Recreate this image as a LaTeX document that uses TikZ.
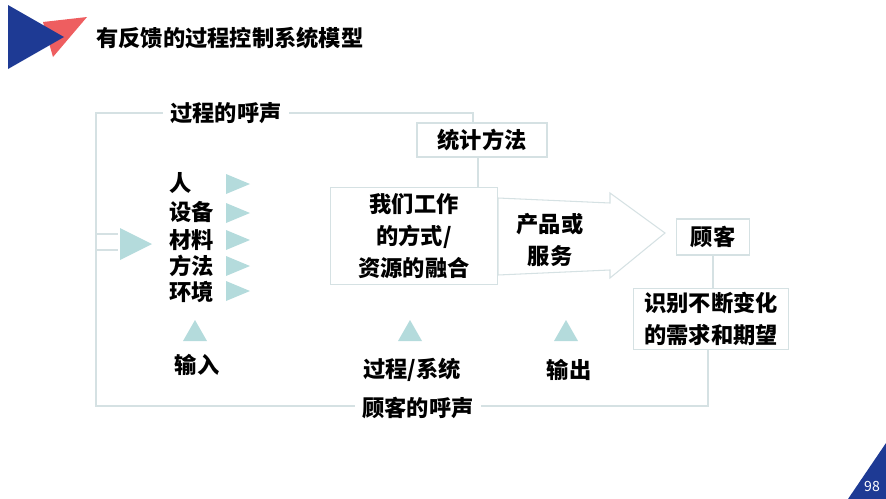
\documentclass[tikz,border=0pt]{standalone}
\usepackage{fontspec}
\setmainfont{Noto Sans CJK SC}
\usetikzlibrary{positioning,calc}
\definecolor{deckblue}{HTML}{1E3A94}
\definecolor{deckred}{HTML}{EE5E60}
\definecolor{arrowteal}{HTML}{B4DBDC}
\definecolor{rulegrey}{HTML}{D5E1E3}
\tikzset{
  x=0.03cm, y=-0.03cm,
  every node/.style = {font=\bfseries\fontsize{19}{27}\selectfont},
  box/.style        = {draw=rulegrey, line width=0.9pt, fill=white, align=center, inner sep=2pt},
  lbl/.style        = {inner sep=1pt, align=center},
  voice/.style      = {fill=white, inner sep=6pt},
  loop/.style       = {draw=rulegrey, line width=0.9pt},
  tip/.style        = {fill=arrowteal},
}
\begin{document}
\begin{tikzpicture}
  \useasboundingbox (0,0) rectangle (886,499);
  % slide decoration
  \fill[deckred] (43,22) -- (87,17) -- (53,57) -- cycle;
  \fill[deckblue] (8,5) -- (64,37) -- (8,69) -- cycle;
  \node[anchor=west, inner sep=0pt] (title) at (96,38) {有反馈的过程控制系统模型};
  \fill[deckblue] (848,499) -- (886,443) -- (886,499) -- cycle;
  \node[text=white, font=\fontsize{12}{14}\selectfont, inner sep=0pt] (page) at (872,486) {98};

  % boxes
  \node[box, minimum width=3.9cm, minimum height=1.02cm] (stat) at (482,140) {统计方法};
  \draw[loop, fill=white] (498,198) -- (610,203) -- (610,193) -- (665,233)
    -- (610,278) -- (610,270) -- (498,275) -- cycle;
  \node[box, minimum width=5.01cm, minimum height=2.91cm] (proc) at (414,236)
    {我们工作\\的方式/\\资源的融合};
  \node[lbl] (prod) at (550,240) {产品或\\服务};
  \node[box, minimum width=2.19cm, minimum height=1.08cm] (cust) at (713,237) {顾客};
  \node[box, minimum width=4.65cm, minimum height=1.83cm] (need) at (711,319)
    {识别不断变化\\的需求和期望};

  % feedback loop
  \coordinate (lb) at (96,406);
  \coordinate (lt) at (96,113);
  \coordinate (st) at (473,113);
  \draw[loop] (need.south -| 708,0) -- (708,406) -- (lb) -- (lt) -- (st) -- (stat.north -| st);
  \draw[loop] (stat.south -| 478,0) -- (proc.north -| 478,0);
  \draw[loop] (cust.south) -- (need.north -| cust.south);
  \draw[loop] (96,234) -- (118,234);
  \draw[loop] (96,250) -- (118,250);
  \node[voice] (pvoice) at (226,113) {过程的呼声};
  \node[voice] (cvoice) at (418,408) {顾客的呼声};

  % inputs
  \fill[tip] (120,228) -- (152,244) -- (120,260) -- cycle;
  \node[lbl, anchor=west] (man) at (168,183) {人};
  \node[lbl, anchor=west] (mach) at (168,212) {设备};
  \node[lbl, anchor=west] (mat) at (168,240) {材料};
  \node[lbl, anchor=west] (meth) at (168,266) {方法};
  \node[lbl, anchor=west] (env) at (168,292) {环境};
  \fill[tip] (226,174) -- (250,184) -- (226,194) -- cycle;
  \fill[tip] (226,203) -- (250,213) -- (226,223) -- cycle;
  \fill[tip] (226,230) -- (250,240) -- (226,250) -- cycle;
  \fill[tip] (226,256) -- (250,266) -- (226,276) -- cycle;
  \fill[tip] (226,281) -- (250,291) -- (226,301) -- cycle;

  % stage labels
  \fill[tip] (183,341) -- (195,320) -- (207,341) -- cycle;
  \fill[tip] (398,341) -- (410,320) -- (422,341) -- cycle;
  \fill[tip] (554,341) -- (566,320) -- (578,341) -- cycle;
  \node[lbl] (inp) at (197,365) {输入};
  \node[lbl] (sys) at (412,370) {过程/系统};
  \node[lbl] (out) at (569,370) {输出};
\end{tikzpicture}
\end{document}
